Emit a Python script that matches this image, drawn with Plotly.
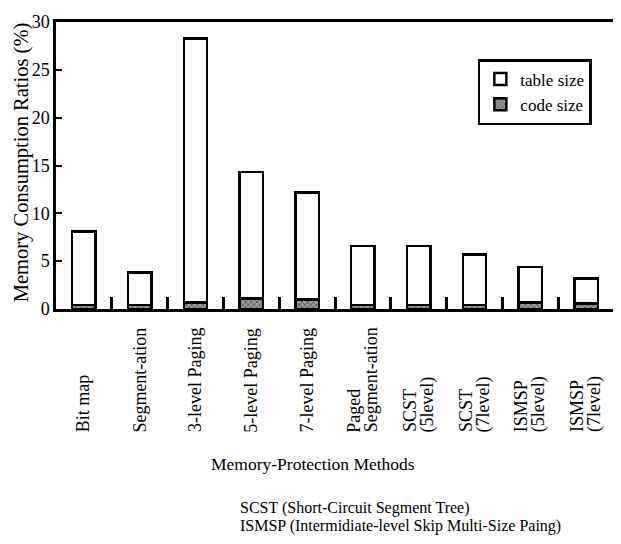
import plotly.graph_objects as go

categories = ["Bit map", "Segment-ation", "3-level Paging", "5-level Paging", "7-level Paging",
              "Paged Segment-ation", "SCST (5level)", "SCST (7level)", "ISMSP (5level)", "ISMSP (7level)"]
tick_label_lines = [["Bit map"], ["Segment-ation"], ["3-level Paging"], ["5-level Paging"],
                    ["7-level Paging"], ["Paged", "Segment-ation"], ["SCST", "(5level)"],
                    ["SCST", "(7level)"], ["ISMSP", "(5level)"], ["ISMSP", "(7level)"]]
total_size = [8.1, 3.8, 28.3, 14.3, 12.2, 6.6, 6.6, 5.7, 4.4, 3.2]
code_size = [0.4, 0.4, 0.7, 1.1, 1.0, 0.4, 0.4, 0.4, 0.7, 0.6]
table_size = [round(t - c, 2) for t, c in zip(total_size, code_size)]
footnotes = ["SCST (Short-Circuit Segment Tree)",
             "ISMSP (Intermidiate-level Skip Multi-Size Paing)"]

FONT = "Liberation Serif"

fig = go.Figure()
fig.add_trace(go.Bar(
    x=categories, y=code_size, name="code size",
    marker=dict(color="#9a9a9a", line=dict(color="black", width=2.5),
                pattern=dict(shape="x", fgcolor="#222", size=4, solidity=0.4)),
    width=0.42,
))
fig.add_trace(go.Bar(
    x=categories, y=table_size, name="table size",
    marker=dict(color="white", line=dict(color="black", width=2.5)),
    width=0.42,
))

# rotated category labels, bottom-aligned, each line placed separately (tight line spacing)
for cat, lines in zip(categories, tick_label_lines):
    n = len(lines)
    for k, line in enumerate(lines):
        shift = (k - (n - 1) / 2) * 17
        fig.add_annotation(x=cat, xref="x", y=-0.437, yref="paper", text=line,
                           textangle=-90, showarrow=False,
                           xanchor="center", yanchor="bottom", xshift=shift,
                           font=dict(family=FONT, size=18, color="black"))

fig.add_annotation(x=0.46, xref="paper", y=-0.541, yref="paper",
                   text="Memory-Protection Methods", showarrow=False,
                   xanchor="center", yanchor="middle",
                   font=dict(family=FONT, size=17.5, color="black"))
for k, note in enumerate(footnotes):
    fig.add_annotation(x=0.326, xref="paper", y=-0.694 - 0.0612 * k, yref="paper",
                       text=note, showarrow=False, xanchor="left", yanchor="middle",
                       font=dict(family=FONT, size=16, color="black"))

fig.add_annotation(x=-0.0624, xref="paper", y=0.512, yref="paper",
                   text="Memory Consumption Ratios (%)", showarrow=False,
                   textangle=-90, xanchor="center", yanchor="middle",
                   font=dict(family=FONT, size=20.5, color="black"))

fig.update_layout(
    width=613, height=536,
    margin=dict(l=48, r=4, t=7, b=235),
    paper_bgcolor="white", plot_bgcolor="white",
    barmode="stack",
    font=dict(family=FONT, size=17, color="black"),
    legend=dict(x=0.756, y=0.871, xanchor="left", yanchor="top",
                traceorder="reversed", bordercolor="black", borderwidth=2.5,
                bgcolor="white", font=dict(family=FONT, size=17),
                itemwidth=30, tracegroupgap=0),
    xaxis=dict(type="category", range=[-0.5, 9.5], showticklabels=False,
               ticks="inside", tickson="boundaries", ticklen=12, tickwidth=3,
               tickcolor="black", showline=True, linecolor="black", linewidth=2.5,
               mirror=True, showgrid=False),
    yaxis=dict(range=[0, 30], tickvals=[0, 5, 10, 15, 20, 25, 30],
               ticks="inside", ticklen=6, tickwidth=2, tickcolor="black",
               showline=True, linecolor="black", linewidth=2.5, mirror=True,
               showgrid=False, zeroline=False, ticklabeloverflow="allow",
               tickfont=dict(family=FONT, size=18)),
    showlegend=True,
)

fig.write_html("out.html")
